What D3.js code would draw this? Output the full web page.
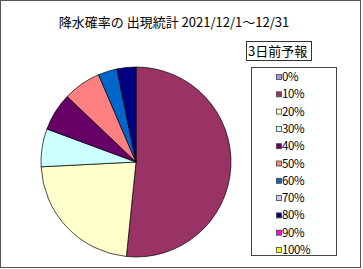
<!DOCTYPE html>
<html>
<head>
<meta charset="utf-8">
<script src="https://cdn.jsdelivr.net/npm/d3@7"></script>
<style>
  html, body { margin: 0; padding: 0; background: #fff; }
  svg { display: block; }
</style>
</head>
<body>
<div id="chart"></div>
<script>
// data: days per forecast probability, 2021/12/1 - 12/31 (31 days)
const categories = ['0%', '10%', '20%', '30%', '40%', '50%', '60%', '70%', '80%', '90%', '100%'];
const dayCounts = [0, 16, 7, 2, 2, 2, 1, 0, 1, 0, 0];
const sliceColors = ['#9999FF', '#993366', '#FFFFCC', '#CCFFFF', '#660066', '#FF8080',
    '#0066CC', '#CCCCFF', '#000080', '#FF00FF', '#FFFF00'];
const titleText = '降水確率の 出現統計 2021/12/1～12/31';
const legendTitle = '3日前予報';

const width = 363, height = 269;
const font = '"Noto Sans CJK JP", "DejaVu Sans", sans-serif';

const svg = d3.select('#chart').append('svg')
    .attr('width', width)
    .attr('height', height);

// outer frame
svg.append('rect')
    .attr('x', 0.5).attr('y', 0.5)
    .attr('width', 360).attr('height', 267)
    .attr('fill', '#fff')
    .attr('stroke', '#555')
    .attr('stroke-width', 1);

svg.append('text')
    .attr('x', 174).attr('y', 27)
    .attr('text-anchor', 'middle')
    .attr('font-family', font)
    .attr('font-size', 13)
    .attr('fill', '#000')
    .text(titleText);

// pie
const data = categories.map((c, i) => ({ cat: c, value: dayCounts[i], color: sliceColors[i] }));
const pie = d3.pie().value(d => d.value).sort(null);
const arc = d3.arc().innerRadius(0).outerRadius(95);

const pieG = svg.append('g').attr('transform', 'translate(136,162)');
pieG.selectAll('path')
    .data(pie(data).filter(d => d.data.value > 0))
    .join('path')
    .attr('d', arc)
    .attr('fill', d => d.data.color)
    .attr('stroke', '#000')
    .attr('stroke-width', 0.7);

// legend title box
const lt = svg.append('g');
lt.append('rect')
    .attr('x', 246.5).attr('y', 41.5)
    .attr('width', 65).attr('height', 19)
    .attr('fill', '#fff')
    .attr('stroke', '#333');
lt.append('text')
    .attr('x', 248).attr('y', 56)
    .attr('font-family', font)
    .attr('font-size', 13)
    .text(legendTitle);

// legend box
svg.append('rect')
    .attr('x', 251.5).attr('y', 67.5)
    .attr('width', 85).attr('height', 188)
    .attr('fill', '#fff')
    .attr('stroke', '#444');

const y = d3.scalePoint().domain(categories).range([77, 250]);
const item = svg.append('g').selectAll('g')
    .data(data)
    .join('g')
    .attr('transform', d => `translate(277,${y(d.cat)})`);
item.append('rect')
    .attr('x', -0.5).attr('y', -2.5)
    .attr('width', 5).attr('height', 5)
    .attr('fill', d => d.color)
    .attr('stroke', '#444')
    .attr('stroke-width', 0.8);
item.append('text')
    .attr('x', 5).attr('y', 4)
    .attr('font-family', font)
    .attr('font-size', 11.5)
    .attr('letter-spacing', -0.4)
    .text(d => d.cat);
</script>
</body>
</html>
